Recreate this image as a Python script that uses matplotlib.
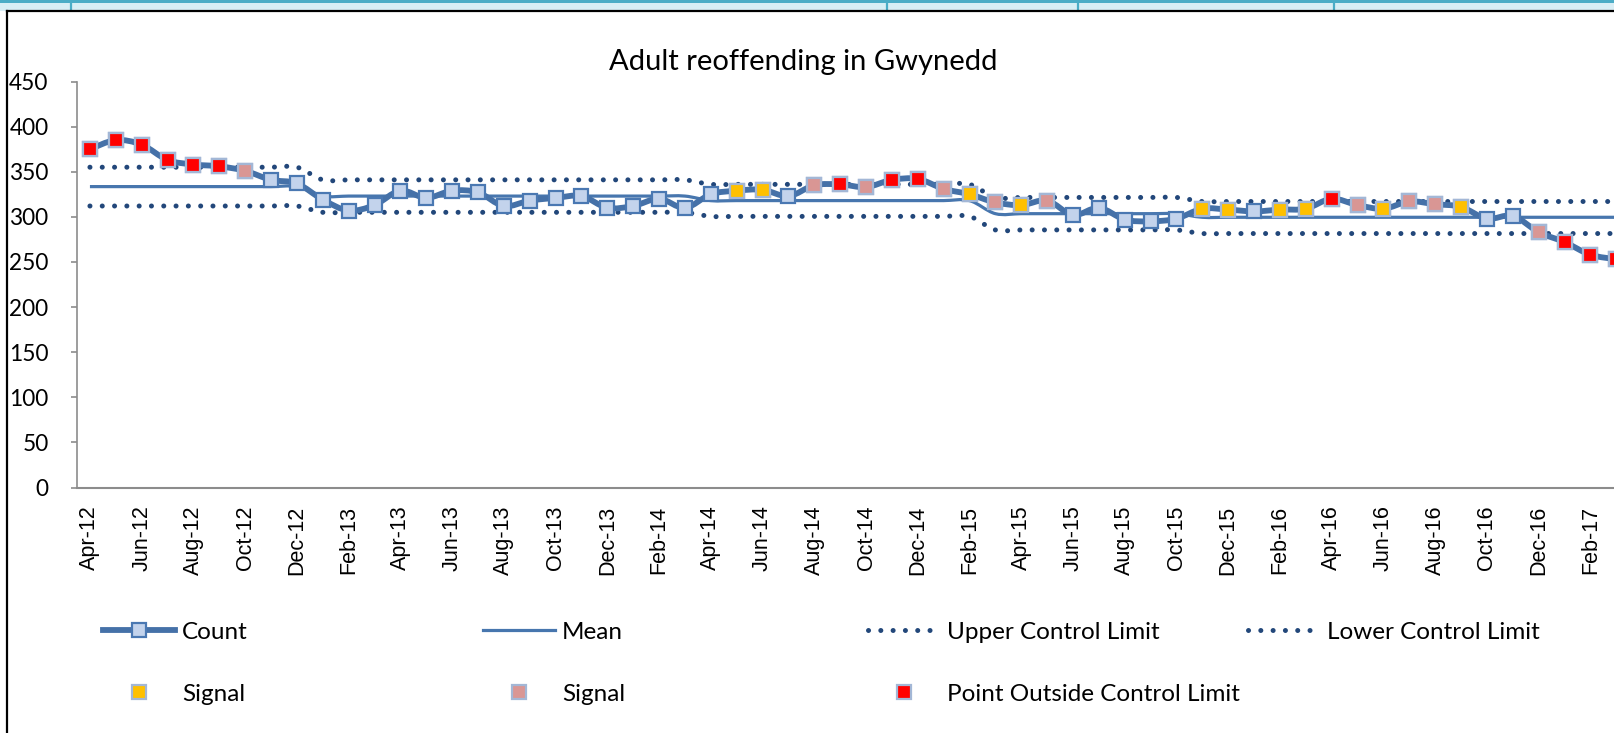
import numpy as np
import matplotlib
matplotlib.use("Agg")
import matplotlib.pyplot as plt
from matplotlib.path import Path
from matplotlib.patches import PathPatch, Rectangle
from matplotlib.lines import Line2D

# ---- data -------------------------------------------------------------
months = [
    "Apr-12", "May-12", "Jun-12", "Jul-12", "Aug-12", "Sep-12", "Oct-12", "Nov-12", "Dec-12",
    "Jan-13", "Feb-13", "Mar-13", "Apr-13", "May-13", "Jun-13", "Jul-13", "Aug-13", "Sep-13",
    "Oct-13", "Nov-13", "Dec-13", "Jan-14", "Feb-14", "Mar-14", "Apr-14", "May-14", "Jun-14",
    "Jul-14", "Aug-14", "Sep-14", "Oct-14", "Nov-14", "Dec-14", "Jan-15", "Feb-15", "Mar-15",
    "Apr-15", "May-15", "Jun-15", "Jul-15", "Aug-15", "Sep-15", "Oct-15", "Nov-15", "Dec-15",
    "Jan-16", "Feb-16", "Mar-16", "Apr-16", "May-16", "Jun-16", "Jul-16", "Aug-16", "Sep-16",
    "Oct-16", "Nov-16", "Dec-16", "Jan-17", "Feb-17", "Mar-17",
]
count = [
    375, 385, 380, 363, 358, 356, 351, 341, 337,
    319, 307, 313, 329, 321, 329, 327, 312, 318,
    321, 323, 310, 312, 320, 310, 325, 329, 330,
    323, 335, 336, 333, 341, 342, 331, 325, 316,
    313, 318, 302, 310, 297, 295, 298, 309, 308,
    306, 308, 309, 320, 313, 309, 317, 314, 311,
    298, 301, 283, 272, 258, 253,
]
# N = normal, Y = signal (amber), P = signal (rose), R = outside control limits
flags = [
    "R", "R", "R", "R", "R", "R", "P", "N", "N",
    "N", "N", "N", "N", "N", "N", "N", "N", "N",
    "N", "N", "N", "N", "N", "N", "N", "Y", "Y",
    "N", "P", "R", "P", "R", "R", "P", "Y", "P",
    "Y", "P", "N", "N", "N", "N", "N", "Y", "Y",
    "N", "Y", "Y", "R", "P", "Y", "P", "P", "Y",
    "N", "N", "P", "R", "R", "R",
]
# process phases: first month index of each phase and its limits
phase_start = [0, 9, 24, 35, 43]
phase_mean = [333.5, 323.0, 318.0, 303.5, 299.5]
phase_ucl = [355.0, 341.0, 336.0, 321.5, 317.0]
phase_lcl = [312.0, 305.0, 300.5, 285.5, 281.5]

# ---- derived series ---------------------------------------------------
n = len(months)
x = np.arange(n)
lengths = np.diff(phase_start + [n])
mean = np.repeat(phase_mean, lengths)
ucl = np.repeat(phase_ucl, lengths)
lcl = np.repeat(phase_lcl, lengths)
count_arr = np.array(count, dtype=float)
flags_arr = np.array(flags)


def smooth_path(xs, ys):
    """Catmull-Rom style smoothed path through the points (cubic Beziers)."""
    verts = [(xs[0], ys[0])]
    codes = [Path.MOVETO]
    m = len(xs)
    for k in range(m - 1):
        x0, y0 = xs[max(k - 1, 0)], ys[max(k - 1, 0)]
        x1, y1 = xs[k], ys[k]
        x2, y2 = xs[k + 1], ys[k + 1]
        x3, y3 = xs[min(k + 2, m - 1)], ys[min(k + 2, m - 1)]
        verts += [(x1 + (x2 - x0) / 6.0, y1 + (y2 - y0) / 6.0),
                  (x2 - (x3 - x1) / 6.0, y2 - (y3 - y1) / 6.0),
                  (x2, y2)]
        codes += [Path.CURVE4] * 3
    return Path(verts, codes)


# ---- styling ----------------------------------------------------------
W, H = 1615, 733
LINE_BLUE = "#4571A8"
MEAN_BLUE = "#4776AE"
DOT_NAVY = "#22477A"
MK_FACE = "#C3D3EC"
MK_EDGE = "#4A78B2"
SIG_EDGE = "#A3B7D6"
AMBER = "#FFC000"
ROSE = "#D99694"
RED = "#FF0000"
CAL = ["Lato", "DejaVu Sans"]
ARIAL = ["Liberation Sans", "DejaVu Sans"]
DOTS = (0, (0.01, 2.45))
MS = 9.6

fig = plt.figure(figsize=(W / 100, H / 100), dpi=100)
fig.patch.set_facecolor("white")


def fx(px):
    return px / W


def fy(py):
    return 1 - py / H


# spreadsheet strip and chart border
fig.add_artist(Rectangle((0, fy(11)), 1, 11 / H, transform=fig.transFigure,
                         facecolor="#D8EEF5", edgecolor="none", zorder=0))
fig.add_artist(Rectangle((0, fy(3)), 1, 3 / H, transform=fig.transFigure,
                         facecolor="#4BACC6", edgecolor="none", zorder=0))
for sx in [71, 887, 1078, 1334]:
    fig.add_artist(Line2D([fx(sx), fx(sx)], [fy(3), fy(10)], transform=fig.transFigure,
                          color="#4BACC6", lw=1.6))
fig.add_artist(Line2D([fx(7), 1], [fy(11), fy(11)], transform=fig.transFigure,
                      color="black", lw=1.6))
fig.add_artist(Line2D([fx(7), fx(7)], [fy(11), 0], transform=fig.transFigure,
                      color="black", lw=1.6))

# plot area extends past the right edge of the canvas
left_px, top_px, bot_px = 77.0, 81.5, 487.5
step = 25.87
width_px = step * n
ax = fig.add_axes([fx(left_px), fy(bot_px), width_px / W, (bot_px - top_px) / H])
ax.set_xlim(-0.5, n - 0.5)
ax.set_ylim(0, 450)
ax.set_facecolor("none")

for side in ["top", "right"]:
    ax.spines[side].set_visible(False)
ax.spines["left"].set_color("#8C8C8C")
ax.spines["left"].set_linewidth(1.2)
ax.spines["bottom"].set_color("#8C8C8C")
ax.spines["bottom"].set_linewidth(1.5)

ax.set_yticks(np.arange(0, 451, 50))
ax.tick_params(axis="y", direction="out", length=4.5, width=1.2, color="#8C8C8C",
               pad=16, labelsize=16.3)
for lab in ax.get_yticklabels():
    lab.set_family(CAL)
ax.set_xticks(x[::2])
ax.set_xticklabels(months[::2], rotation=90, family=ARIAL, fontsize=15.5)
ax.tick_params(axis="x", length=0, pad=13)

# control limits and mean
ax.add_patch(PathPatch(smooth_path(x, ucl), fill=False, edgecolor=DOT_NAVY, lw=3.6,
                       linestyle=DOTS, capstyle="round", zorder=2))
ax.add_patch(PathPatch(smooth_path(x, lcl), fill=False, edgecolor=DOT_NAVY, lw=3.6,
                       linestyle=DOTS, capstyle="round", zorder=2))
ax.add_patch(PathPatch(smooth_path(x, mean), fill=False, edgecolor=MEAN_BLUE, lw=2.3,
                       zorder=2))

# count series
ax.add_patch(PathPatch(smooth_path(x, count_arr), fill=False, edgecolor=LINE_BLUE,
                       lw=4.2, capstyle="round", joinstyle="round", zorder=3))
ax.plot(x, count_arr, ls="none", marker="s", ms=MS, mfc=MK_FACE, mec=MK_EDGE,
        mew=1.6, zorder=4)

for code, colour in [("Y", AMBER), ("P", ROSE), ("R", RED)]:
    yv = np.where(flags_arr == code, count_arr, np.nan)
    ax.plot(x, yv, ls="none", marker="s", ms=MS, mfc=colour, mec=SIG_EDGE,
            mew=1.6, zorder=5)

# title
fig.text(fx(803), fy(62), "Adult reoffending in Gwynedd", family=CAL, fontsize=21,
         ha="center", va="center")

# legend entries
h_count = Line2D([], [], color=LINE_BLUE, lw=4.2, marker="s", ms=MS, mfc=MK_FACE,
                 mec=MK_EDGE, mew=1.6)
h_mean = Line2D([], [], color=MEAN_BLUE, lw=2.3)
h_ucl = Line2D([], [], color=DOT_NAVY, lw=3.6, ls=DOTS, dash_capstyle="round")
h_lcl = Line2D([], [], color=DOT_NAVY, lw=3.6, ls=DOTS, dash_capstyle="round")
h_amber = Line2D([], [], ls="none", marker="s", ms=MS, mfc=AMBER, mec=SIG_EDGE, mew=1.6)
h_rose = Line2D([], [], ls="none", marker="s", ms=MS, mfc=ROSE, mec=SIG_EDGE, mew=1.6)
h_red = Line2D([], [], ls="none", marker="s", ms=MS, mfc=RED, mec=SIG_EDGE, mew=1.6)

leg_fs = 17.5
fs_px = leg_fs * 100 / 72
entries = [
    (h_count, "Count", 103, 632),
    (h_mean, "Mean", 483, 632),
    (h_ucl, "Upper Control Limit", 868, 632),
    (h_lcl, "Lower Control Limit", 1248, 632),
    (h_amber, "Signal", 103, 694),
    (h_rose, "Signal", 483, 694),
    (h_red, "Point Outside Control Limit", 868, 694),
]
for handle, label, hx, hy in entries:
    fig.legend(handles=[handle], labels=[label], loc="center left",
               bbox_to_anchor=(fx(hx), fy(hy)), frameon=False, borderpad=0,
               borderaxespad=0, handlelength=72 / fs_px, handletextpad=7 / fs_px,
               numpoints=1, prop={"family": CAL, "size": leg_fs})

fig.savefig("out.png", dpi=100, facecolor="white")
